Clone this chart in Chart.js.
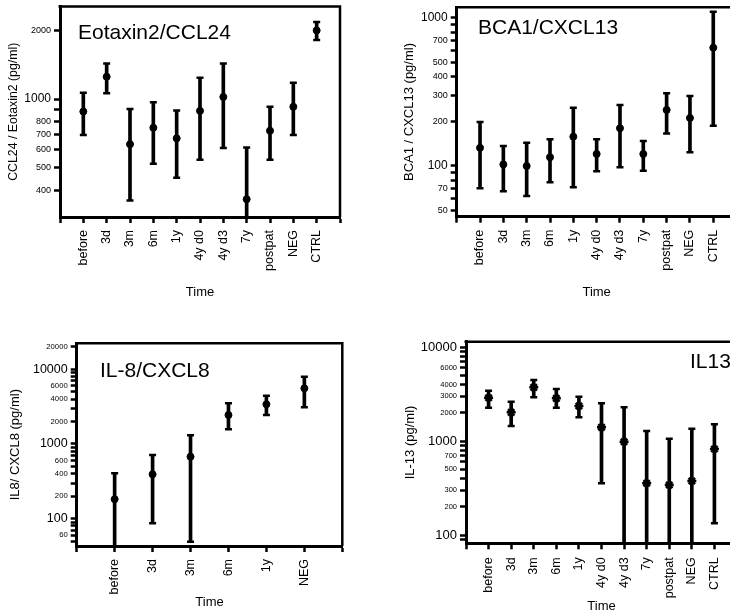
<!DOCTYPE html>
<html>
<head>
<meta charset="utf-8">
<script src="https://cdn.jsdelivr.net/npm/chart.js@4.4.1/dist/chart.umd.min.js"></script>
<style>
html,body{margin:0;padding:0;background:#fff;overflow:hidden;}
#page{position:relative;width:730px;height:615px;overflow:hidden;}
canvas{position:absolute;}
</style>
</head>
<body>
<div id="page">
<canvas id="c1" width="365" height="300" style="left:0;top:0"></canvas>
<canvas id="c2" width="380" height="300" style="left:365px;top:0"></canvas>
<canvas id="c3" width="365" height="315" style="left:0;top:300px"></canvas>
<canvas id="c4" width="380" height="315" style="left:365px;top:300px"></canvas>
</div>
<script>
const FONT = "'Liberation Sans', Arial, sans-serif";

const timeLabels = ['before','3d','3m','6m','1y','4y d0','4y d3','7y','postpat','NEG','CTRL'];
const il8Labels = ['before','3d','3m','6m','1y','NEG'];

// Eotaxin2 / CCL24 (pg/ml)
const ccl24Mean = [883, 1254, 635, 750, 674, 889, 1023, 365, 728, 926, 2000];
const ccl24Low  = [697, 1062, 360, 522, 453, 543, 612, 296, 543, 697, 1816];
const ccl24High = [1068, 1434, 905, 970, 892, 1241, 1434, 614, 926, 1181, 2175];
const ccl24Ticks = [400, 500, 600, 700, 800, 900, 1000, 2000];
const ccl24TickLabels = [400, 500, 600, 700, 800, 1000, 2000];
const ccl24BigTicks = [1000];

// BCA1 / CXCL13 (pg/ml)
const cxcl13Mean = [132, 102, 99.5, 114, 157, 120, 179, 120, 238, 210, 627];
const cxcl13Low  = [70.4, 67.1, 62.4, 77.2, 71.5, 91.6, 97.5, 92.5, 165, 123, 186];
const cxcl13High = [197, 136, 143, 151, 246, 151, 257, 147, 308, 296, 1098];
const cxcl13Ticks = [50, 60, 70, 80, 90, 100, 200, 300, 400, 500, 600, 700, 800, 900, 1000];
const cxcl13TickLabels = [50, 70, 100, 200, 300, 400, 500, 700, 1000];
const cxcl13BigTicks = [100, 1000];

// IL-8 / CXCL8 (pg/ml)
const il8Mean = [182, 393, 676, 2445, 3400, 5566];
const il8Low  = [40, 86.7, 49.2, 1573, 2445, 3100];
const il8High = [405, 713, 1307, 3508, 4432, 7960];
const il8Ticks = [50, 60, 70, 80, 90, 100, 200, 300, 400, 500, 600, 700, 800, 900, 1000,
  2000, 3000, 4000, 5000, 6000, 7000, 8000, 9000, 10000, 20000];
const il8TickLabels = [60, 100, 200, 400, 600, 1000, 2000, 4000, 6000, 10000, 20000];
const il8BigTicks = [100, 1000, 10000];

// IL-13 (pg/ml)
const il13Mean = [2890, 2020, 3726, 2845, 2357, 1399, 983, 355, 340, 375, 822];
const il13Low  = [2260, 1445, 2917, 2260, 1787, 355, 60, 60, 60, 60, 133];
const il13High = [3427, 2618, 4457, 3573, 2960, 2518, 2284, 1277, 1058, 1352, 1505];
const il13Ticks = [90, 100, 200, 300, 400, 500, 600, 700, 800, 900, 1000,
  2000, 3000, 4000, 5000, 6000, 7000, 8000, 9000, 10000];
const il13TickLabels = [100, 200, 300, 500, 700, 1000, 2000, 3000, 4000, 6000, 10000];
const il13BigTicks = [100, 1000, 10000];

// top and right edges of the plot box
const framePlugin = {
  id: 'frame',
  afterDraw(chart) {
    const {ctx, chartArea: {left, top, right, bottom}} = chart;
    ctx.save();
    ctx.strokeStyle = '#000';
    ctx.lineWidth = 2.5;
    ctx.beginPath();
    ctx.moveTo(left - 1.5, top);
    ctx.lineTo(right, top);
    ctx.lineTo(right, bottom);
    ctx.stroke();
    ctx.restore();
  }
};

// analyte name inside the plot
const panelTitle = {
  id: 'panelTitle',
  afterDraw(chart, args, opts) {
    const ctx = chart.ctx;
    ctx.save();
    ctx.font = opts.size + 'px ' + FONT;
    ctx.fillStyle = '#000';
    ctx.textBaseline = 'middle';
    ctx.fillText(opts.text, opts.x, opts.y);
    ctx.restore();
  }
};

function padded(arr) {
  return [null, ...arr, null];
}

function makePanel(id, p) {
  const labels = ['', ...p.labels, ''];
  const ranges = p.low.map((lo, i) => [lo, p.high[i]]);
  const capStyle = {
    type: 'line', showLine: false, pointStyle: 'line', pointRadius: 3.5,
    pointBorderWidth: 2.5, borderColor: '#000', pointBorderColor: '#000', order: 2
  };

  new Chart(document.getElementById(id), {
    type: 'bar',
    data: {
      labels,
      datasets: [
        {type: 'bar', data: padded(ranges), backgroundColor: '#000', barThickness: 3,
          borderWidth: 0, grouped: false, order: 3},
        Object.assign({data: padded(p.high)}, capStyle),
        Object.assign({data: padded(p.low)}, capStyle),
        {type: 'line', data: padded(p.mean), showLine: false, pointStyle: p.marker,
          pointRadius: p.markerSize, pointBorderWidth: p.markerBorder,
          pointBackgroundColor: '#000', pointBorderColor: '#000', borderColor: '#000', order: 1}
      ]
    },
    options: {
      responsive: false,
      animation: false,
      events: [],
      devicePixelRatio: 1,
      layout: {padding: {top: p.padTop, right: p.padRight, left: 0, bottom: 0}},
      plugins: {
        legend: {display: false},
        tooltip: {enabled: false},
        panelTitle: {text: p.title, x: p.titleX, y: p.titleY, size: 21}
      },
      scales: {
        x: {
          type: 'category',
          offset: false,
          grid: {display: true, offset: false, drawOnChartArea: false, drawTicks: true,
            tickLength: 6, tickWidth: 2.5, tickColor: '#000'},
          border: {display: true, color: '#000', width: 3},
          ticks: {autoSkip: false, minRotation: 90, maxRotation: 90, padding: p.labelPad,
            color: '#000', font: {family: FONT, size: 12.5}},
          title: {display: true, text: 'Time', color: '#000',
            font: {family: FONT, size: 13}, padding: {top: 0, bottom: p.timePad}},
          afterFit(scale) {
            scale.height = p.xHeight;
            scale.paddingLeft = 0;
            scale.paddingRight = 0;
          }
        },
        y: {
          type: 'logarithmic',
          min: p.min,
          max: p.max,
          bounds: 'data',
          afterBuildTicks(scale) { scale.ticks = p.ticks.map(v => ({value: v})); },
          grid: {display: true, drawOnChartArea: false, drawTicks: true,
            tickLength: 6, tickWidth: 2.5, tickColor: '#000'},
          border: {display: true, color: '#000', width: 3},
          ticks: {
            autoSkip: false,
            padding: 3,
            color: '#000',
            callback: v => p.tickLabels.includes(v) ? String(v) : '',
            font: ctx => ({
              family: FONT,
              size: ctx.tick && p.bigTicks.includes(ctx.tick.value) ? p.bigSize : p.smallSize
            })
          },
          title: {display: true, text: p.yTitle, color: '#000',
            font: {family: FONT, size: p.yTitleSize}, padding: {top: p.yTitlePad, bottom: 0}},
          afterFit(scale) {
            scale.width = p.yWidth;
            scale.paddingTop = 0;
            scale.paddingBottom = 0;
          }
        }
      }
    },
    plugins: [framePlugin, panelTitle]
  });
}

makePanel('c1', {
  labels: timeLabels, mean: ccl24Mean, low: ccl24Low, high: ccl24High,
  ticks: ccl24Ticks, tickLabels: ccl24TickLabels, bigTicks: ccl24BigTicks,
  min: 305, max: 2545, bigSize: 12, smallSize: 9,
  title: 'Eotaxin2/CCL24', titleX: 78, titleY: 33,
  yTitle: 'CCL24 / Eotaxin2 (pg/ml)', yTitleSize: 12.3, yTitlePad: 5.9,
  marker: 'circle', markerSize: 3.5, markerBorder: 1,
  padTop: 5, padRight: 25, yWidth: 60, xHeight: 83, timePad: 0, labelPad: 7
});

makePanel('c2', {
  labels: timeLabels, mean: cxcl13Mean, low: cxcl13Low, high: cxcl13High,
  ticks: cxcl13Ticks, tickLabels: cxcl13TickLabels, bigTicks: cxcl13BigTicks,
  min: 45.2, max: 1175, bigSize: 12, smallSize: 9,
  title: 'BCA1/CXCL13', titleX: 113, titleY: 28,
  yTitle: 'BCA1 / CXCL13 (pg/ml)', yTitleSize: 13, yTitlePad: 36.2,
  marker: 'circle', markerSize: 3.5, markerBorder: 1,
  padTop: 7.3, padRight: 8.4, yWidth: 91.7, xHeight: 83.3, timePad: 0, labelPad: 7
});

makePanel('c3', {
  labels: il8Labels, mean: il8Mean, low: il8Low, high: il8High,
  ticks: il8Ticks, tickLabels: il8TickLabels, bigTicks: il8BigTicks,
  min: 43, max: 22300, bigSize: 12.5, smallSize: 7.7,
  title: 'IL-8/CXCL8', titleX: 100, titleY: 71.7,
  yTitle: 'IL8/ CXCL8 (pg/ml)', yTitleSize: 13, yTitlePad: 7.2,
  marker: 'circle', markerSize: 3.5, markerBorder: 1,
  padTop: 43.3, padRight: 22.7, yWidth: 76.7, xHeight: 69, timePad: 4.5, labelPad: 7
});

makePanel('c4', {
  labels: timeLabels, mean: il13Mean, low: il13Low, high: il13High,
  ticks: il13Ticks, tickLabels: il13TickLabels, bigTicks: il13BigTicks,
  min: 81.6, max: 11400, bigSize: 13, smallSize: 7.5,
  title: 'IL13', titleX: 325, titleY: 62.3,
  yTitle: 'IL-13 (pg/ml)', yTitleSize: 13, yTitlePad: 37.2,
  marker: 'star', markerSize: 4.5, markerBorder: 2.5,
  padTop: 41.7, padRight: 8, yWidth: 101, xHeight: 71.7, timePad: 0.5, labelPad: 8
});
</script>
</body>
</html>
